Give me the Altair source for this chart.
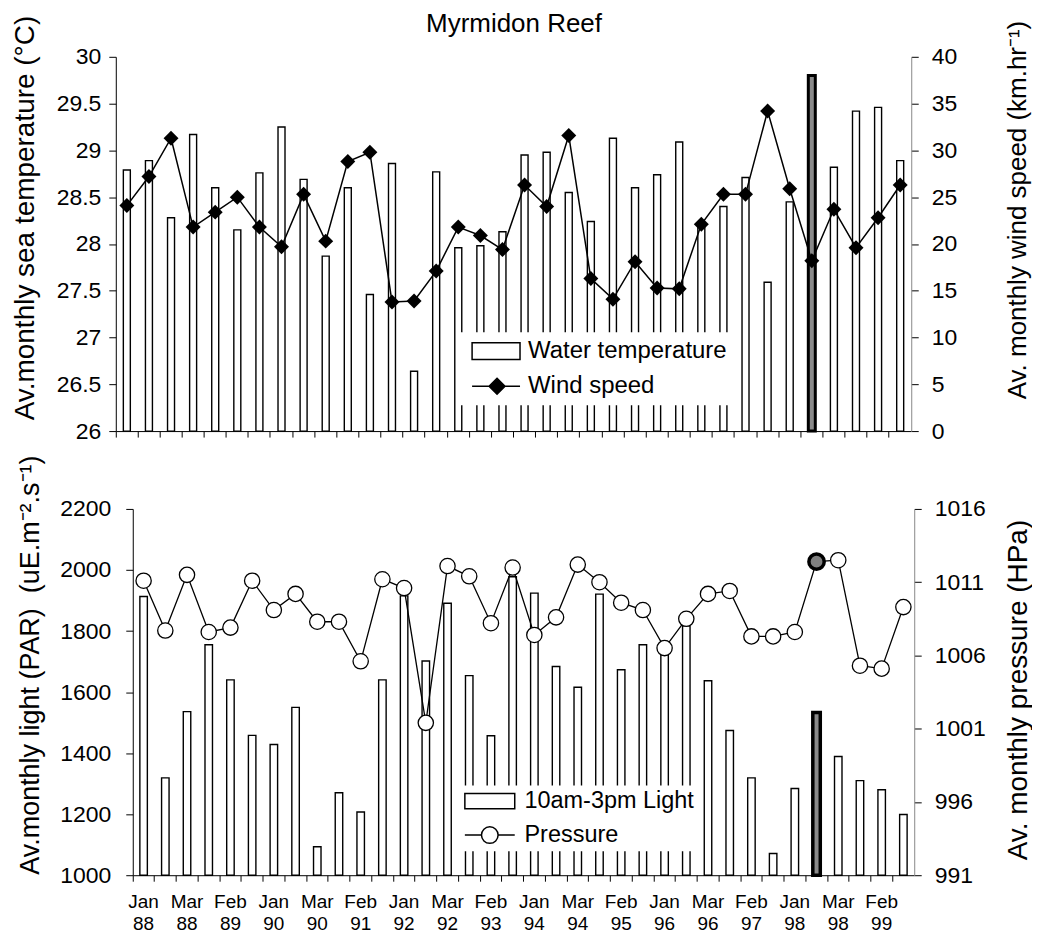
import altair as alt
import pandas as pd

FONT = "Liberation Sans"

months = ["Jan 88", "Feb 88", "Mar 88", "Jan 89", "Feb 89", "Mar 89",
          "Jan 90", "Feb 90", "Mar 90", "Jan 91", "Feb 91", "Mar 91",
          "Jan 92", "Feb 92", "Mar 92", "Jan 93", "Feb 93", "Mar 93",
          "Jan 94", "Feb 94", "Mar 94", "Jan 95", "Feb 95", "Mar 95",
          "Jan 96", "Feb 96", "Mar 96", "Jan 97", "Feb 97", "Mar 97",
          "Jan 98", "Feb 98", "Mar 98", "Jan 99", "Feb 99", "Mar 99"]
label_months = ["Jan 88", "Mar 88", "Feb 89", "Jan 90", "Mar 90", "Feb 91",
                "Jan 92", "Mar 92", "Feb 93", "Jan 94", "Mar 94", "Feb 95",
                "Jan 96", "Mar 96", "Feb 97", "Jan 98", "Mar 98", "Feb 99"]
highlight_month = "Feb 98"

temp = [28.79, 28.89, 28.28, 29.17, 28.60, 28.15, 28.76, 29.25, 28.69,
        27.87, 28.60, 27.46, 28.86, 26.64, 28.77, 27.96, 27.98, 28.13,
        28.95, 28.98, 28.55, 28.24, 29.13, 28.60, 28.74, 29.09, 28.23,
        28.40, 28.71, 27.59, 28.45, 29.80, 28.82, 29.42, 29.46, 28.89]
wind = [24.1, 27.2, 31.3, 21.8, 23.4, 25.0, 21.8, 19.7, 25.3,
        20.3, 28.8, 29.8, 13.8, 13.9, 17.1, 21.8, 20.9, 19.4,
        26.3, 24.0, 31.6, 16.3, 14.1, 18.1, 15.3, 15.2, 22.1,
        25.3, 25.3, 34.2, 25.9, 18.2, 23.7, 19.6, 22.8, 26.3]
light = [1913, 1319, 1536, 1755, 1640, 1458, 1428, 1550, 1093,
         1270, 1207, 1640, 1915, 1702, 1891, 1654, 1457, 1978,
         1924, 1684, 1616, 1921, 1673, 1755, 1722, 1817, 1637,
         1474, 1319, 1071, 1284, 1533, 1389, 1310, 1280, 1199]
pressure = [1011.1, 1007.7, 1011.5, 1007.6, 1007.9, 1011.1, 1009.1, 1010.2, 1008.3,
            1008.3, 1005.6, 1011.2, 1010.6, 1001.4, 1012.1, 1011.4, 1008.2, 1012.0,
            1007.4, 1008.6, 1012.2, 1011.0, 1009.6, 1009.1, 1006.5, 1008.5, 1010.2,
            1010.4, 1007.3, 1007.3, 1007.6, 1012.4, 1012.5, 1005.3, 1005.1, 1009.3]

temp_ticks = [26, 26.5, 27, 27.5, 28, 28.5, 29, 29.5, 30]
wind_ticks = [0, 5, 10, 15, 20, 25, 30, 35, 40]
light_ticks = [1000, 1200, 1400, 1600, 1800, 2000, 2200]
pressure_ticks = [991, 996, 1001, 1006, 1011, 1016]

top_legend = ["Water temperature", "Wind speed"]
bottom_legend = ["10am-3pm Light", "Pressure"]

df = pd.DataFrame({"month": months, "temp": temp, "wind": wind,
                   "light": light, "pressure": pressure})
df["hl"] = (df["month"] == highlight_month).astype(int)

HL = "datum.hl == 1"

TOP_W, TOP_H = 797, 375
BOT_W, BOT_H, BOT_SHIFT = 800, 367, 17


def X(axis, rng=None):
    if rng is None:
        sc = alt.Scale(domain=months, paddingInner=0, paddingOuter=0)
    else:
        sc = alt.Scale(domain=months, paddingInner=0, paddingOuter=0, range=rng)
    return alt.X("month:N", scale=sc, axis=axis)


def tick_axis():
    return alt.Axis(orient="bottom", values=months, bandPosition=0, labels=False,
                    tickSize=6, title=None, domainColor="black", tickColor="black")


def yaxis(orient, values, title, tx, ty, fmt, tsize, lpad, dcolor="black", offset=0):
    return alt.Axis(orient=orient, values=values, format=fmt, tickSize=7,
                    labelPadding=lpad, labelFontSize=23, title=title,
                    titleFontSize=tsize, titleAngle=270, titleBaseline="middle",
                    titleAlign="center", titleX=tx, titleY=ty, offset=offset,
                    domainColor=dcolor, tickColor="black")


base = alt.Chart(df)

# ---------------- top panel ----------------
bars_t = base.mark_bar(size=7, stroke="black").encode(
    x=X(tick_axis()),
    y=alt.Y("temp:Q", scale=alt.Scale(domain=[26, 30], zero=False, nice=False),
            axis=yaxis("left", temp_ticks, "Av.monthly sea temperature (°C)",
                       -90, 161, ".1~f", 28, 8)),
    y2=alt.datum(temp_ticks[0]),
    fill=alt.condition(HL, alt.value("#8a8a8a"), alt.value("white")),
    strokeWidth=alt.condition(HL, alt.value(3), alt.value(1.4)),
)

title_axis = alt.Axis(orient="top", title="Myrmidon Reef", labels=False, ticks=False,
                      domain=False, titleFontSize=26, titlePadding=20,
                      titleFontWeight="normal")

wind_l = base.mark_line(
    color="black", strokeWidth=1.5,
    point=alt.OverlayMarkDef(shape="diamond", filled=True, size=225, color="black"),
).encode(
    x=X(title_axis),
    y=alt.Y("wind:Q", scale=alt.Scale(domain=[0, 40], nice=False),
            axis=yaxis("right", wind_ticks, "Av. monthly wind speed (km.hr⁻¹)",
                       106.5, 153, "d", 26, 13, "#888")),
)

top_paths = ["M-1,-1.2H5.86V1.2H-1Z",
             "M-1,0H5.86M2.57,-1.14L3.71,0L2.57,1.14L1.43,0Z"]
top_leg = alt.Legend(orient="none", legendX=345, legendY=276, title=None,
                     fillColor="white", padding=7, labelFontSize=24, labelOffset=37,
                     labelLimit=400, rowPadding=11, symbolSize=196,
                     symbolStrokeWidth=1.5, symbolOpacity=1, labelColor="black")
legend_t = alt.Chart(pd.DataFrame({"series": top_legend})).mark_point(
    filled=True, opacity=0
).encode(
    shape=alt.Shape("series:N", scale=alt.Scale(domain=top_legend, range=top_paths),
                    legend=top_leg),
    fill=alt.Fill("series:N", scale=alt.Scale(domain=top_legend, range=["white", "black"]),
                  legend=top_leg),
    stroke=alt.Stroke("series:N", scale=alt.Scale(domain=top_legend, range=["black", "black"]),
                      legend=top_leg),
)

top = alt.layer(bars_t, wind_l, legend_t).resolve_scale(
    y="independent").resolve_axis(x="independent", y="independent").properties(
    width=TOP_W, height=TOP_H)

# ---------------- bottom panel ----------------
bot_range = [BOT_SHIFT, BOT_W]

bars_b = base.mark_bar(size=7.5, stroke="black").encode(
    x=X(tick_axis(), bot_range),
    y=alt.Y("light:Q", scale=alt.Scale(domain=[1000, 2200], zero=False, nice=False),
            axis=yaxis("left", light_ticks, "Av.monthly light (PAR)\u00a0 (uE.m⁻².s⁻¹)",
                       -102, 156, "d", 27, 15, offset=-BOT_SHIFT)),
    y2=alt.datum(light_ticks[0]),
    fill=alt.condition(HL, alt.value("#8a8a8a"), alt.value("white")),
    strokeWidth=alt.condition(HL, alt.value(3.5), alt.value(1.4)),
)

label_axis = alt.Axis(orient="bottom", values=label_months,
                      labelExpr="split(datum.value, ' ')", ticks=False, tickSize=0,
                      domain=False, labelAngle=0, labelFontSize=19, labelLineHeight=22,
                      labelPadding=17, labelBaseline="top", labelOverlap=False,
                      title=None, labelColor="black")

p_scale = alt.Scale(domain=[991, 1016], zero=False, nice=False)
p_axis = yaxis("right", pressure_ticks, "Av. monthly pressure (HPa)",
               104, 181, "d", 28, 13, "#888")
press_line = base.mark_line(color="black", strokeWidth=1.3).encode(
    x=X(label_axis, bot_range),
    y=alt.Y("pressure:Q", scale=p_scale, axis=p_axis),
)
press_pts = base.mark_point(filled=True, size=235, stroke="black", shape="circle",
                            opacity=1).encode(
    x=X(label_axis, bot_range),
    y=alt.Y("pressure:Q", scale=p_scale, axis=p_axis),
    fill=alt.condition(HL, alt.value("#808080"), alt.value("white")),
    strokeWidth=alt.condition(HL, alt.value(3.5), alt.value(1.3)),
)
press = alt.layer(press_line, press_pts)

bot_paths = ["M-1,-1.1H6.14V1.1H-1Z",
             "M-1,0H1.38M3.76,0H6.14M3.76,0A1.19,1.19,0,1,1,1.38,0A1.19,1.19,0,1,1,3.76,0Z"]
bot_leg = alt.Legend(orient="none", legendX=341, legendY=277, title=None,
                     fillColor="white", padding=4, labelFontSize=23.5, labelOffset=41,
                     labelLimit=400, rowPadding=9, symbolSize=196,
                     symbolStrokeWidth=1.5, symbolOpacity=1, labelColor="black")
legend_b = alt.Chart(pd.DataFrame({"series": bottom_legend})).mark_point(
    filled=True, opacity=0
).encode(
    shape=alt.Shape("series:N", scale=alt.Scale(domain=bottom_legend, range=bot_paths),
                    legend=bot_leg),
    fill=alt.Fill("series:N", scale=alt.Scale(domain=bottom_legend, range=["white", "white"]),
                  legend=bot_leg),
    stroke=alt.Stroke("series:N", scale=alt.Scale(domain=bottom_legend, range=["black", "black"]),
                      legend=bot_leg),
)

bottom = alt.layer(bars_b, press, legend_b).resolve_scale(
    y="independent").resolve_axis(x="independent", y="independent").properties(
    width=BOT_W, height=BOT_H)

chart = alt.vconcat(top, bottom, spacing=11).resolve_scale(
    x="independent", y="independent", fill="independent", shape="independent",
    stroke="independent"
).resolve_legend(fill="independent", shape="independent", stroke="independent").properties(
    padding={"left": 3, "top": 2, "right": 0, "bottom": 0}
).configure(font=FONT).configure_view(stroke=None).configure_axis(
    grid=False, labelFont=FONT, titleFont=FONT, labelColor="black",
    titleColor="black", titleFontWeight="normal"
).configure_legend(labelFont=FONT)

chart.save("out.html", embed_options={"renderer": "svg", "actions": False})
